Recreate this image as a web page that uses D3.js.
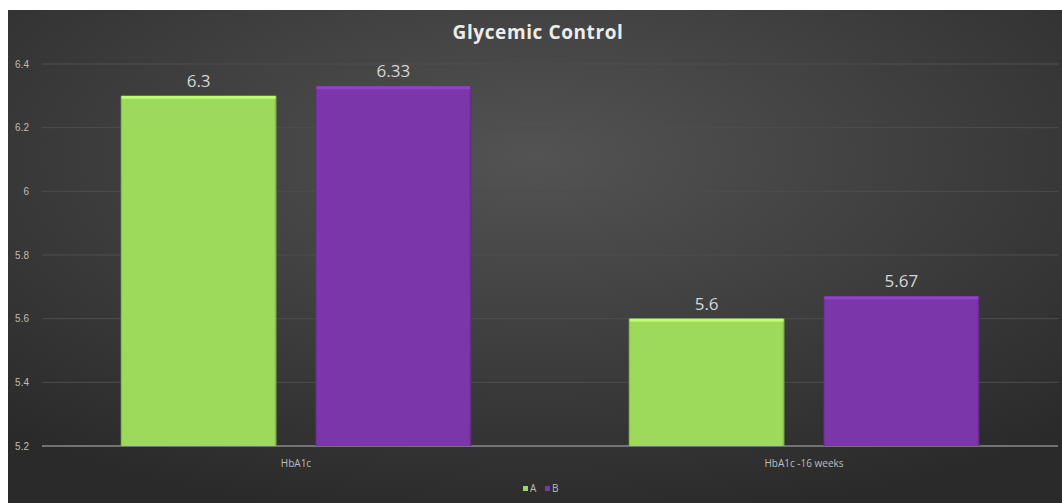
<!DOCTYPE html>
<meta charset="utf-8">
<head>
<title>Glycemic Control</title>
<style>
body { margin: 0; background: #fff; font-family: "Open Sans", "Noto Sans", sans-serif; }
svg { display: block; }
.tick text { fill: #bdbdbd; font-size: 10px; }
</style>
</head>
<body>
<svg id="chart" width="1062" height="503"></svg>
<script src="https://cdnjs.cloudflare.com/ajax/libs/d3/7.8.5/d3.min.js"></script>
<script>
// data
var categories = ["HbA1c", "HbA1c -16 weeks"];
var series = ["A", "B"];
var valuesA = [6.3, 5.6];
var valuesB = [6.33, 5.67];
var yTicks = [5.2, 5.4, 5.6, 5.8, 6, 6.2, 6.4];
var colors = { A: "#9dd95a", B: "#7b36a9" };

var rows = categories.map(function(c, i) {
	return { cat: c, A: valuesA[i], B: valuesB[i] };
});

const W = 1062, H = 503;
var svg = d3.select("#chart");
var defs = svg.append("defs");

// background, radial-ish dark
var bg = defs.append("radialGradient").attr("id", "bg")
	.attr("cx", "50%").attr("cy", "30%").attr("r", "75%");
bg.append("stop").attr("offset", "0%").attr("stop-color", "#535353");
bg.append("stop").attr("offset", "100%").attr("stop-color", "#2a2a2a");
svg.append("rect").attr("x", 8).attr("y", 10).attr("width", W - 8).attr("height", H - 10)
	.attr("fill", "url(#bg)");

// bar bevel gradients
series.forEach(function(s) {
	var c = d3.color(colors[s]);
	var g = defs.append("linearGradient").attr("id", "bev-" + s)
		.attr("x1", 0).attr("y1", 0).attr("x2", 1).attr("y2", 0);
	g.append("stop").attr("offset", "0%").attr("stop-color", c.darker(0.6));
	g.append("stop").attr("offset", "1.2%").attr("stop-color", c);
	g.append("stop").attr("offset", "98.5%").attr("stop-color", c);
	g.append("stop").attr("offset", "100%").attr("stop-color", c.darker(0.8));
});

var margin = { left: 42, right: 4, top: 64, bottom: 57 };
var x0 = d3.scaleBand().domain(categories)
	.range([margin.left, W - margin.right])
	.paddingInner(0.31).paddingOuter(0.155);
var x1 = d3.scaleBand().domain(series)
	.range([0, x0.bandwidth()]).paddingInner(0.2);
var y = d3.scaleLinear().domain([5.2, 6.4]).range([H - margin.bottom, margin.top]);

// grid
svg.append("g")
	.selectAll("line").data(yTicks).join("line")
	.attr("x1", margin.left).attr("x2", W - margin.right)
	.attr("y1", function(d) { return y(d); }).attr("y2", function(d) { return y(d); })
	.attr("stroke", function(d) { return d === 5.2 ? "#8a8a8a" : "#4e4e4e"; })
	.attr("stroke-width", function(d) { return d === 5.2 ? 1.5 : 1; });

// y axis
var yAxis = svg.append("g").attr("transform", "translate(" + (margin.left - 10) + ",0)")
	.call(d3.axisLeft(y).tickValues(yTicks).tickSize(0).tickFormat(d3.format("")));
yAxis.select(".domain").remove();

// bars
var grp = svg.append("g").selectAll("g").data(rows).join("g")
	.attr("transform", function(d) { return "translate(" + x0(d.cat) + ",0)"; });

var bars = grp.selectAll("g").data(function(d) {
	return series.map(function(s) { return { key: s, value: d[s] }; });
}).join("g");

bars.append("rect")
	.attr("x", function(d) { return x1(d.key); })
	.attr("y", function(d) { return y(d.value); })
	.attr("width", x1.bandwidth())
	.attr("height", function(d) { return y(5.2) - y(d.value); })
	.attr("fill", function(d) { return "url(#bev-" + d.key + ")"; });

// top bevel highlight
bars.append("rect")
	.attr("x", function(d) { return x1(d.key) + 1; })
	.attr("y", function(d) { return y(d.value); })
	.attr("width", x1.bandwidth() - 2)
	.attr("height", 3)
	.attr("fill", function(d) { return d3.color(colors[d.key]).brighter(0.5); });

bars.append("text")
	.attr("x", function(d) { return x1(d.key) + x1.bandwidth() / 2; })
	.attr("y", function(d) { return y(d.value) - 9; })
	.attr("text-anchor", "middle")
	.attr("fill", "#d6d6d6")
	.style("font-size", "17px")
	.text(function(d) { return d.value; });

// x labels
svg.append("g").selectAll("text").data(categories).join("text")
	.attr("x", function(d) { return x0(d) + x0.bandwidth() / 2; })
	.attr("y", y(5.2) + 21)
	.attr("text-anchor", "middle")
	.attr("fill", "#bdbdbd")
	.style("font-size", "10px")
	.text(function(d) { return d; });

// title
svg.append("text")
	.attr("x", 538).attr("y", 39)
	.attr("text-anchor", "middle")
	.attr("fill", "#ececec")
	.style("font-size", "19px").style("font-weight", "bold")
	.style("letter-spacing", "0.6px")
	.text("Glycemic Control");

// legend
var legend = svg.append("g").attr("transform", "translate(523,490)");
var li = legend.selectAll("g").data(series).join("g")
	.attr("transform", function(d, i) { return "translate(" + (i * 22) + ",0)"; });
li.append("rect").attr("x", 0).attr("y", -4).attr("width", 5).attr("height", 5)
	.attr("fill", function(d) { return colors[d]; });
li.append("text").attr("x", 7).attr("y", 2)
	.attr("fill", "#bdbdbd").style("font-size", "10px")
	.text(function(d) { return d; });
</script>
</body>
</html>
